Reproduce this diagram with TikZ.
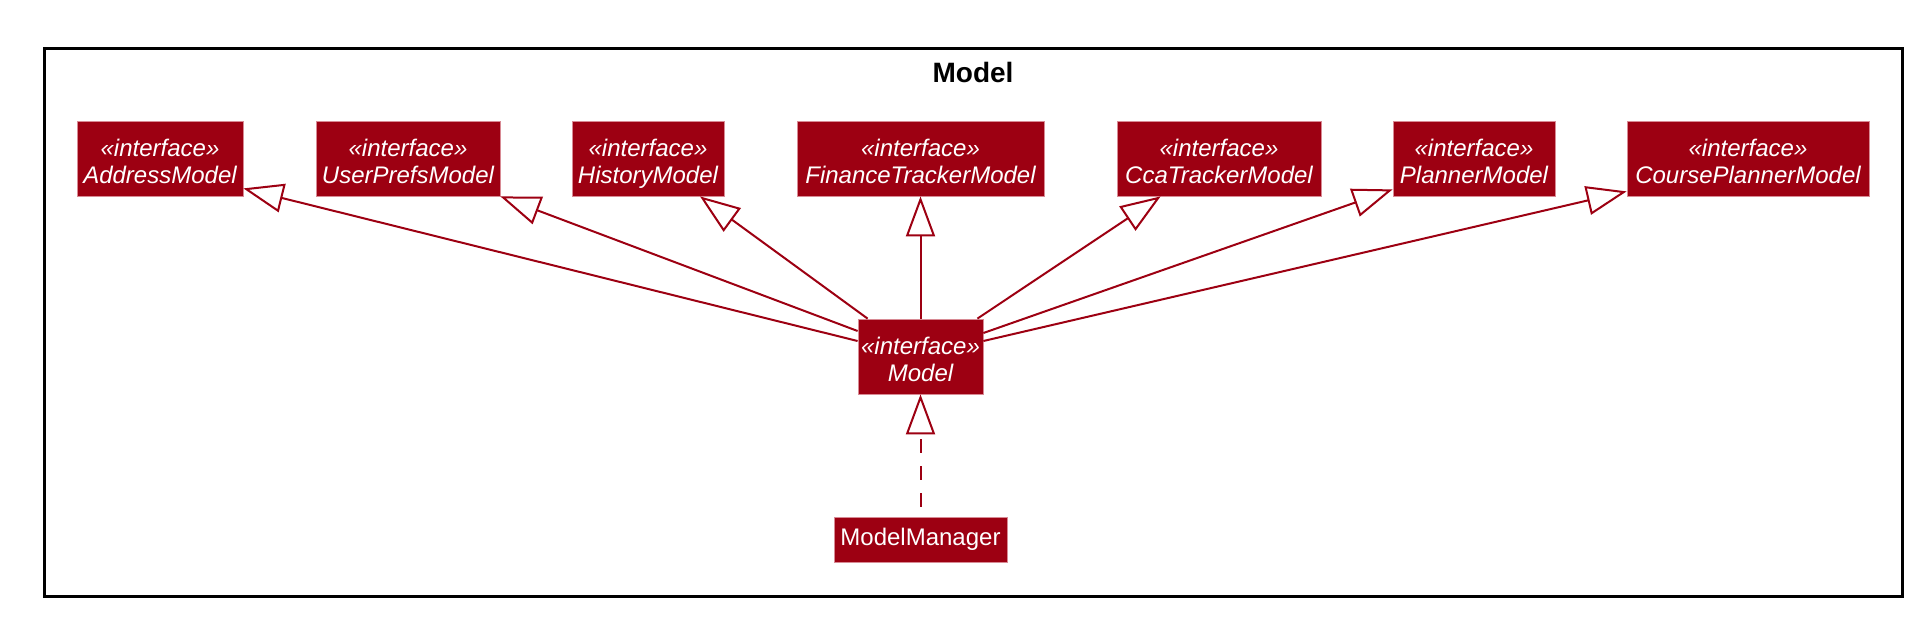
\documentclass[tikz,border=0pt]{standalone}
\usepackage{fontspec}
\setmainfont{Liberation Sans}
\usetikzlibrary{arrows.meta,calc}
\definecolor{mred}{HTML}{9D0012}
\definecolor{mborder}{HTML}{D88A94}
\newcommand\lnstrut{\rule[-5.5pt]{0pt}{33pt}}
\newcommand\ifacefont{\fontsize{24}{27}\selectfont\itshape\lineskiplimit=-100pt\relax}
\begin{document}
\begin{tikzpicture}[x=1pt,y=-1pt,
  boxbase/.style={fill=mred, draw=mborder, line width=0.8pt, text=white, inner sep=0pt, align=center},
  iface/.style={boxbase, minimum height=75pt, font=\ifacefont},
  cls/.style={boxbase, minimum height=45pt, font=\fontsize{24}{27}\selectfont},
  gen/.style={draw=mred, line width=2pt, -{Triangle[open, length=40pt, width=29pt, fill=white]}},
  real/.style={gen, dash pattern=on 14pt off 13pt, dash phase=17pt}
]
\useasboundingbox (0,0) rectangle (1922,616);
\draw[line width=3pt] (44,48) rectangle (1902,596);
\node[font=\fontsize{28}{30}\selectfont\bfseries] (title) at (973,72) {Model};

\node[iface, minimum width=166pt] (addr)   at (160,158.5)  {\lnstrut«interface»\\\lnstrut AddressModel};
\node[iface, minimum width=184pt] (up)     at (408,158.5)  {\lnstrut«interface»\\\lnstrut UserPrefsModel};
\node[iface, minimum width=152pt] (hist)   at (648,158.5)  {\lnstrut«interface»\\\lnstrut HistoryModel};
\node[iface, minimum width=247pt] (fin)    at (920.5,158.5){\lnstrut«interface»\\\lnstrut FinanceTrackerModel};
\node[iface, minimum width=204pt] (cca)    at (1219,158.5) {\lnstrut«interface»\\\lnstrut CcaTrackerModel};
\node[iface, minimum width=162pt] (plan)   at (1474,158.5) {\lnstrut«interface»\\\lnstrut PlannerModel};
\node[iface, minimum width=242pt] (course) at (1748,158.5) {\lnstrut«interface»\\\lnstrut CoursePlannerModel};

\node[iface, minimum width=125pt] (model)  at (920.5,356.5){\lnstrut«interface»\\\lnstrut Model};
\node[cls, minimum width=173pt] (manager)  at (920.5,539.5){ModelManager};

\draw[gen] ($(model.west)+(0,-15.5)$) -- ($(addr.south east)+(0,-8)$);
\draw[gen] ($(model.west)+(0,-25.5)$) -- (up.south east);
\draw[gen] ($(model.north west)+(10,0)$) -- ($(hist.south)+(52,0)$);
\draw[gen] (model.north) -- (fin.south);
\draw[gen] ($(model.north east)+(-6,0)$) -- ($(cca.south west)+(44,0)$);
\draw[gen] ($(model.east)+(0,-23.5)$) -- ($(plan.south west)+(0,-7)$);
\draw[gen] ($(model.east)+(0,-15.5)$) -- ($(course.south west)+(0,-5)$);
\draw[real] (manager.north) -- (model.south);
\end{tikzpicture}
\end{document}
